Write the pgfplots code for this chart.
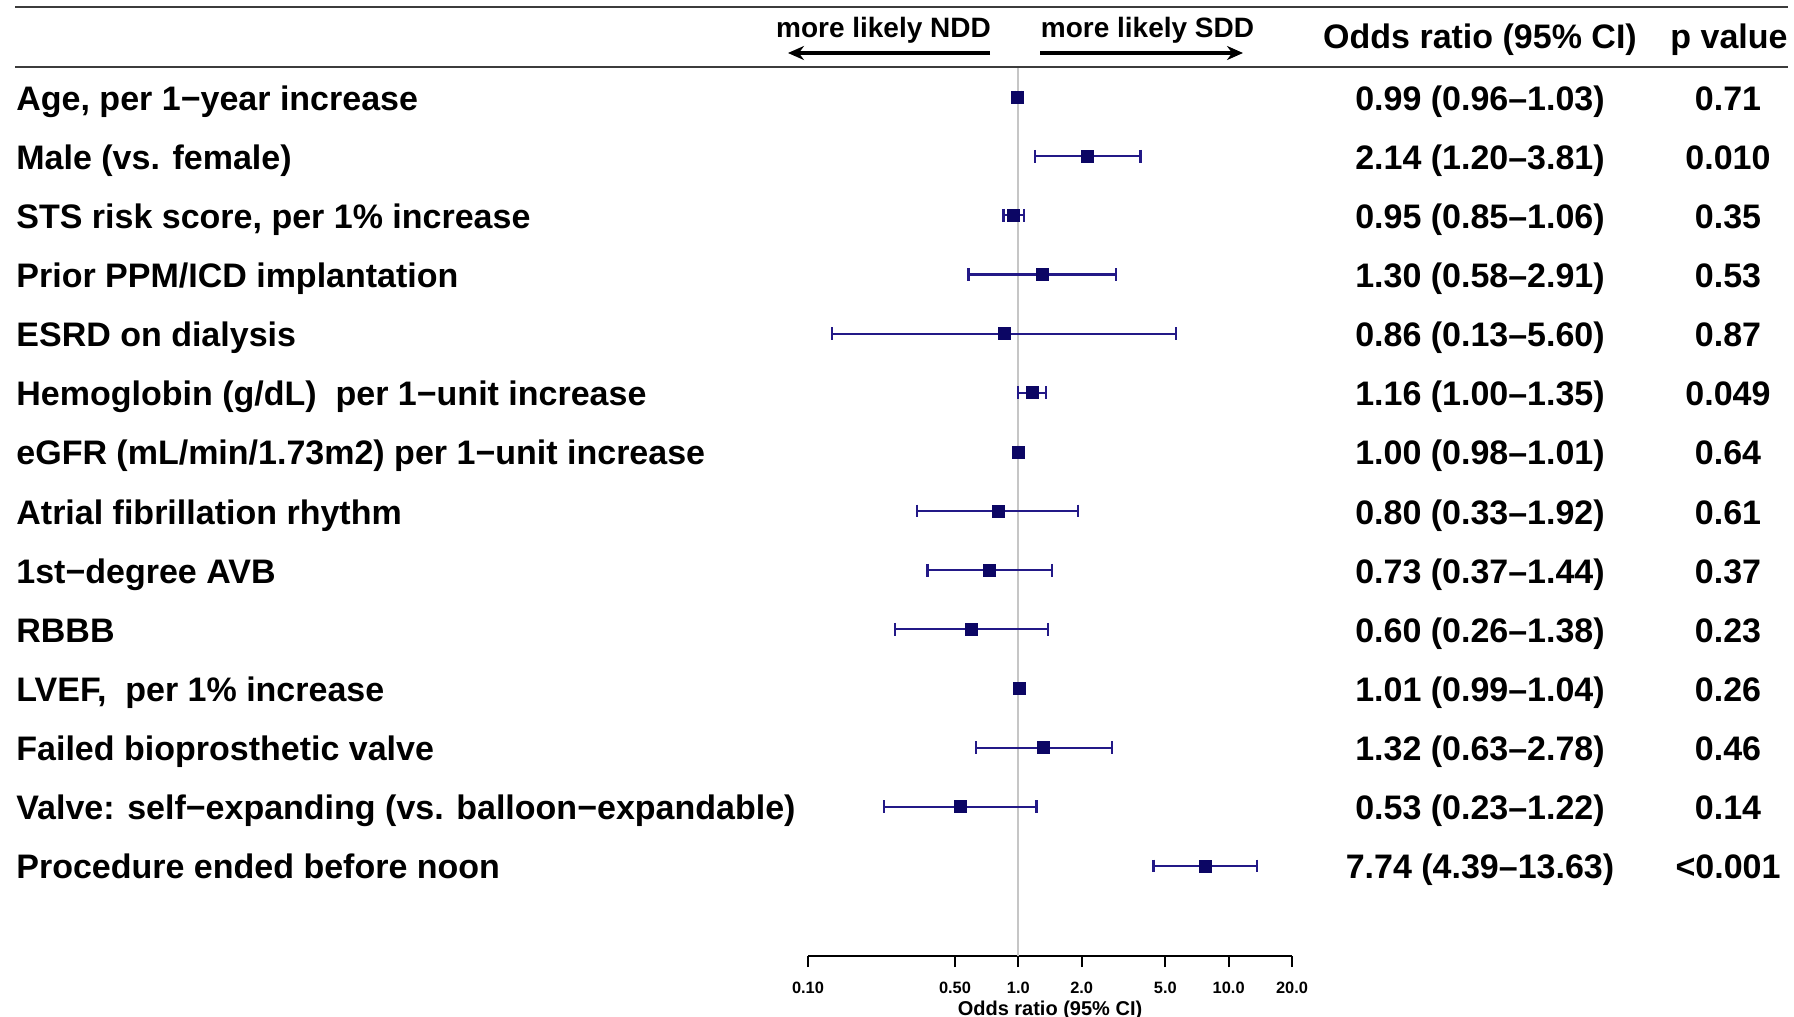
\documentclass[border=0pt]{standalone}
\usepackage{pgfplots}
\pgfplotsset{compat=1.18}
\usepackage{pgfplotstable}
\usepackage{fontspec}
\setmainfont{Liberation Sans}
\usetikzlibrary{arrows.meta}
\definecolor{cil}{RGB}{35,25,135}
\definecolor{box}{RGB}{12,6,100}
\definecolor{rule}{RGB}{60,60,60}
\pgfplotstableread{
row or lo hi
1 0.99 0.96 1.03
2 2.14 1.20 3.81
3 0.95 0.85 1.06
4 1.30 0.58 2.91
5 0.86 0.13 5.60
6 1.16 1.00 1.35
7 1.00 0.98 1.01
8 0.80 0.33 1.92
9 0.73 0.37 1.44
10 0.60 0.26 1.38
11 1.01 0.99 1.04
12 1.32 0.63 2.78
13 0.53 0.23 1.22
14 7.74 4.39 13.63
}\ordata
\newcommand\bigtxt{\fontsize{17}{20}\selectfont\bfseries}
\begin{document}
\begin{tikzpicture}
\begin{axis}[
  at={(404pt,-478pt)}, anchor=south west,
  scale only axis, width=242pt, height=444.5pt,
  xmode=log, xmin=0.1, xmax=20,
  ymin=0.4928, ymax=15.522, y dir=reverse,
  axis x line=bottom, axis line style={-, line width=1pt, black},
  hide y axis,
  xtick={0.1,0.5,1,2,5,10,20},
  xticklabels={0.10,0.50,1.0,2.0,5.0,10.0,20.0},
  tick align=outside, major tick length=5.5pt,
  every tick/.style={black, line width=1pt},
  /pgf/number format/assume math mode=true,
  xticklabel style={font=\fontsize{8.2}{10}\selectfont\bfseries, yshift=-4pt},
  clip=false,
]
\addplot[gray!45, line width=1pt] coordinates {(1,0.4928) (1,15.522)};
\pgfplotsset{ci/.style={cil, line width=1.1pt, mark=|, mark size=3.2pt, mark options={solid, line width=1.1pt}}}
\addplot[ci] coordinates {(0.96,1) (1.03,1)};
\addplot[ci] coordinates {(1.20,2) (3.81,2)};
\addplot[ci] coordinates {(0.85,3) (1.06,3)};
\addplot[ci] coordinates {(0.58,4) (2.91,4)};
\addplot[ci] coordinates {(0.13,5) (5.60,5)};
\addplot[ci] coordinates {(1.00,6) (1.35,6)};
\addplot[ci] coordinates {(0.98,7) (1.01,7)};
\addplot[ci] coordinates {(0.33,8) (1.92,8)};
\addplot[ci] coordinates {(0.37,9) (1.44,9)};
\addplot[ci] coordinates {(0.26,10) (1.38,10)};
\addplot[ci] coordinates {(0.99,11) (1.04,11)};
\addplot[ci] coordinates {(0.63,12) (2.78,12)};
\addplot[ci] coordinates {(0.23,13) (1.22,13)};
\addplot[ci] coordinates {(4.39,14) (13.63,14)};
\addplot[only marks, mark=square*, mark size=3pt, box] table[x=or, y=row] {\ordata};
\end{axis}
\begin{scope}[x=0.5pt,y=-0.5pt]
\useasboundingbox (0,0) rectangle (1794,1017);
% rules
\draw[rule, line width=1pt] (15,7) -- (1788,7);
\draw[rule, line width=1pt] (15,67) -- (1788,67);
% headers
\node[inner sep=0, anchor=base, font=\bigtxt] at (1480,48) {Odds ratio (95\% CI)};
\node[inner sep=0, anchor=base, font=\bigtxt] at (1729,48) {p value};
\node[inner sep=0, anchor=base, font=\fontsize{14}{16}\selectfont\bfseries] at (883.5,38) {more likely NDD};
\node[inner sep=0, anchor=base, font=\fontsize{14}{16}\selectfont\bfseries] at (1147.5,38) {more likely SDD};
\draw[line width=2pt, -{Stealth[length=8pt,width=7pt]}] (990,53) -- (788,53);
\draw[line width=2pt, -{Stealth[length=8pt,width=7pt]}] (1040,53) -- (1243,53);
\node[font=\fontsize{10}{12}\selectfont\bfseries] at (1050,1010) {Odds ratio (95\% CI)};
% rows
\newcommand\rowtxt[4]{%
  \pgfmathsetmacro\ry{97+(#1-1)*59.15+13}%
  \node[inner sep=0, anchor=base west, font=\bigtxt] at (16,\ry) {#2};%
  \node[inner sep=0, anchor=base, font=\bigtxt] at (1480,\ry) {#3};%
  \node[inner sep=0, anchor=base, font=\bigtxt] at (1728,\ry) {#4};}
\rowtxt{1}{Age, per 1−year increase}{0.99 (0.96–1.03)}{0.71}
\rowtxt{2}{Male (vs. female)}{2.14 (1.20–3.81)}{0.010}
\rowtxt{3}{STS risk score, per 1\% increase}{0.95 (0.85–1.06)}{0.35}
\rowtxt{4}{Prior PPM/ICD implantation}{1.30 (0.58–2.91)}{0.53}
\rowtxt{5}{ESRD on dialysis}{0.86 (0.13–5.60)}{0.87}
\rowtxt{6}{Hemoglobin (g/dL)\ \ per 1−unit increase}{1.16 (1.00–1.35)}{0.049}
\rowtxt{7}{eGFR (mL/min/1.73m2) per 1−unit increase}{1.00 (0.98–1.01)}{0.64}
\rowtxt{8}{Atrial fibrillation rhythm}{0.80 (0.33–1.92)}{0.61}
\rowtxt{9}{1st−degree AVB}{0.73 (0.37–1.44)}{0.37}
\rowtxt{10}{RBBB}{0.60 (0.26–1.38)}{0.23}
\rowtxt{11}{LVEF,\ \ per 1\% increase}{1.01 (0.99–1.04)}{0.26}
\rowtxt{12}{Failed bioprosthetic valve}{1.32 (0.63–2.78)}{0.46}
\rowtxt{13}{Valve: self−expanding (vs. balloon−expandable)}{0.53 (0.23–1.22)}{0.14}
\rowtxt{14}{Procedure ended before noon}{7.74 (4.39–13.63)}{<0.001}
\end{scope}
\end{tikzpicture}
\end{document}
